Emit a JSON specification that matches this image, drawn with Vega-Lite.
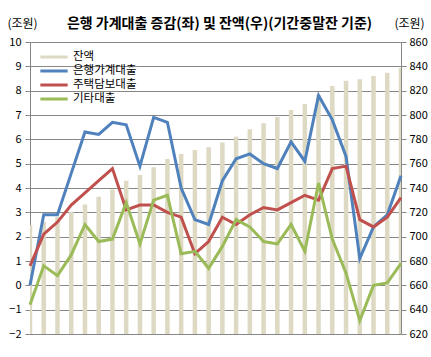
{
  "$schema": "https://vega.github.io/schema/vega-lite/v6.json",
  "width": 371,
  "height": 292,
  "autosize": {"type": "none"},
  "padding": {"left": 30, "top": 42, "right": 30, "bottom": 23},
  "background": "white",
  "config": {"font": "Noto Sans CJK KR", "view": {"stroke": null}},
  "title": {"text": "은행 가계대출 증감(좌) 및 잔액(우)(기간중말잔 기준)", "frame": "group", "anchor": "middle", "offset": -14, "dx": 4, "fontSize": 14, "fontWeight": "bold", "color": "#000000", "font": "Noto Sans CJK KR"},
  "datasets": {
    "balance": [
      {"month": "17/01", "value": 709.5}, {"month": "17/02", "value": 712.2}, {"month": "17/03", "value": 716.3}, {"month": "17/04", "value": 720.4},
      {"month": "17/05", "value": 726.5}, {"month": "17/06", "value": 732.8}, {"month": "17/07", "value": 738.8}, {"month": "17/08", "value": 745.9},
      {"month": "17/09", "value": 750.6}, {"month": "17/10", "value": 757.0}, {"month": "17/11", "value": 763.8}, {"month": "17/12", "value": 767.9},
      {"month": "18/01", "value": 771.2}, {"month": "18/02", "value": 773.4}, {"month": "18/03", "value": 777.5}, {"month": "18/04", "value": 782.1},
      {"month": "18/05", "value": 788.2}, {"month": "18/06", "value": 793.2}, {"month": "18/07", "value": 798.3}, {"month": "18/08", "value": 804.1},
      {"month": "18/09", "value": 809.1}, {"month": "18/10", "value": 816.5}, {"month": "18/11", "value": 823.9}, {"month": "18/12", "value": 828.2},
      {"month": "19/01", "value": 829.4}, {"month": "19/02", "value": 832.1}, {"month": "19/03", "value": 834.8}, {"month": "19/04", "value": 838.6}
    ],
    "loans": [
      {"month": "17/01", "series": "은행가계대출", "value": 0.0}, {"month": "17/02", "series": "은행가계대출", "value": 2.9},
      {"month": "17/03", "series": "은행가계대출", "value": 2.9}, {"month": "17/04", "series": "은행가계대출", "value": 4.6},
      {"month": "17/05", "series": "은행가계대출", "value": 6.3}, {"month": "17/06", "series": "은행가계대출", "value": 6.2},
      {"month": "17/07", "series": "은행가계대출", "value": 6.7}, {"month": "17/08", "series": "은행가계대출", "value": 6.6},
      {"month": "17/09", "series": "은행가계대출", "value": 4.9}, {"month": "17/10", "series": "은행가계대출", "value": 6.9},
      {"month": "17/11", "series": "은행가계대출", "value": 6.7}, {"month": "17/12", "series": "은행가계대출", "value": 4.0},
      {"month": "18/01", "series": "은행가계대출", "value": 2.7}, {"month": "18/02", "series": "은행가계대출", "value": 2.5},
      {"month": "18/03", "series": "은행가계대출", "value": 4.3}, {"month": "18/04", "series": "은행가계대출", "value": 5.2},
      {"month": "18/05", "series": "은행가계대출", "value": 5.4}, {"month": "18/06", "series": "은행가계대출", "value": 5.0},
      {"month": "18/07", "series": "은행가계대출", "value": 4.8}, {"month": "18/08", "series": "은행가계대출", "value": 5.9},
      {"month": "18/09", "series": "은행가계대출", "value": 5.1}, {"month": "18/10", "series": "은행가계대출", "value": 7.8},
      {"month": "18/11", "series": "은행가계대출", "value": 6.8}, {"month": "18/12", "series": "은행가계대출", "value": 5.3},
      {"month": "19/01", "series": "은행가계대출", "value": 1.1}, {"month": "19/02", "series": "은행가계대출", "value": 2.4},
      {"month": "19/03", "series": "은행가계대출", "value": 2.9}, {"month": "19/04", "series": "은행가계대출", "value": 4.5},

      {"month": "17/01", "series": "주택담보대출", "value": 0.8}, {"month": "17/02", "series": "주택담보대출", "value": 2.1},
      {"month": "17/03", "series": "주택담보대출", "value": 2.6}, {"month": "17/04", "series": "주택담보대출", "value": 3.3},
      {"month": "17/05", "series": "주택담보대출", "value": 3.8}, {"month": "17/06", "series": "주택담보대출", "value": 4.3},
      {"month": "17/07", "series": "주택담보대출", "value": 4.8}, {"month": "17/08", "series": "주택담보대출", "value": 3.1},
      {"month": "17/09", "series": "주택담보대출", "value": 3.3}, {"month": "17/10", "series": "주택담보대출", "value": 3.3},
      {"month": "17/11", "series": "주택담보대출", "value": 3.0}, {"month": "17/12", "series": "주택담보대출", "value": 2.8},
      {"month": "18/01", "series": "주택담보대출", "value": 1.3}, {"month": "18/02", "series": "주택담보대출", "value": 1.8},
      {"month": "18/03", "series": "주택담보대출", "value": 2.8}, {"month": "18/04", "series": "주택담보대출", "value": 2.5},
      {"month": "18/05", "series": "주택담보대출", "value": 2.9}, {"month": "18/06", "series": "주택담보대출", "value": 3.2},
      {"month": "18/07", "series": "주택담보대출", "value": 3.1}, {"month": "18/08", "series": "주택담보대출", "value": 3.4},
      {"month": "18/09", "series": "주택담보대출", "value": 3.7}, {"month": "18/10", "series": "주택담보대출", "value": 3.5},
      {"month": "18/11", "series": "주택담보대출", "value": 4.8}, {"month": "18/12", "series": "주택담보대출", "value": 4.9},
      {"month": "19/01", "series": "주택담보대출", "value": 2.7}, {"month": "19/02", "series": "주택담보대출", "value": 2.4},
      {"month": "19/03", "series": "주택담보대출", "value": 2.8}, {"month": "19/04", "series": "주택담보대출", "value": 3.6},

      {"month": "17/01", "series": "기타대출", "value": -0.8}, {"month": "17/02", "series": "기타대출", "value": 0.8},
      {"month": "17/03", "series": "기타대출", "value": 0.4}, {"month": "17/04", "series": "기타대출", "value": 1.25},
      {"month": "17/05", "series": "기타대출", "value": 2.5}, {"month": "17/06", "series": "기타대출", "value": 1.8},
      {"month": "17/07", "series": "기타대출", "value": 1.9}, {"month": "17/08", "series": "기타대출", "value": 3.4},
      {"month": "17/09", "series": "기타대출", "value": 1.7}, {"month": "17/10", "series": "기타대출", "value": 3.5},
      {"month": "17/11", "series": "기타대출", "value": 3.7}, {"month": "17/12", "series": "기타대출", "value": 1.3},
      {"month": "18/01", "series": "기타대출", "value": 1.4}, {"month": "18/02", "series": "기타대출", "value": 0.7},
      {"month": "18/03", "series": "기타대출", "value": 1.6}, {"month": "18/04", "series": "기타대출", "value": 2.7},
      {"month": "18/05", "series": "기타대출", "value": 2.4}, {"month": "18/06", "series": "기타대출", "value": 1.8},
      {"month": "18/07", "series": "기타대출", "value": 1.7}, {"month": "18/08", "series": "기타대출", "value": 2.5},
      {"month": "18/09", "series": "기타대출", "value": 1.4}, {"month": "18/10", "series": "기타대출", "value": 4.2},
      {"month": "18/11", "series": "기타대출", "value": 1.9}, {"month": "18/12", "series": "기타대출", "value": 0.5},
      {"month": "19/01", "series": "기타대출", "value": -1.45}, {"month": "19/02", "series": "기타대출", "value": 0.0},
      {"month": "19/03", "series": "기타대출", "value": 0.1}, {"month": "19/04", "series": "기타대출", "value": 0.9}
    ]
  },
  "layer": [
    {
      "data": {"name": "balance"},
      "mark": {"type": "bar", "color": "#DDD9C3", "size": 4.5, "clip": true},
      "encoding": {
        "x": {
          "field": "month", "type": "ordinal", "sort": null,
          "scale": {"type": "point", "padding": 0},
          "axis": {
            "title": null, "values": ["17/01", "17/07", "18/01", "18/07", "19/01"],
            "offset": -48.67, "domainColor": "#878787", "tickColor": "#878787", "tickSize": 4,
            "labelAngle": 0, "labelFontSize": 10.5, "labelColor": "#000000", "labelPadding": 3,
            "labelOverlap": false, "grid": false
          }
        },
        "y": {
          "field": "value", "type": "quantitative",
          "scale": {"domain": [620, 860], "zero": false, "nice": false},
          "axis": {
            "orient": "right", "values": [620, 640, 660, 680, 700, 720, 740, 760, 780, 800, 820, 840, 860],
            "grid": false, "domainColor": "#878787", "tickColor": "#878787", "tickSize": 5,
            "labelFontSize": 11, "labelColor": "#000000", "labelPadding": 3,
            "title": "(조원)", "titleAngle": 0, "titleX": 8, "titleY": -19, "titleAlign": "center",
            "titleBaseline": "middle", "titleFontSize": 12, "titleFontWeight": "normal", "titleColor": "#000000"
          }
        },
        "y2": {"datum": 620}
      }
    },
    {
      "data": {"name": "loans"},
      "mark": {"type": "line", "strokeWidth": 3},
      "encoding": {
        "x": {"field": "month", "type": "ordinal", "sort": null, "scale": {"type": "point", "padding": 0}, "axis": null},
        "y": {
          "field": "value", "type": "quantitative",
          "scale": {"domain": [-2, 10], "nice": false, "zero": false},
          "axis": {
            "orient": "left", "values": [-2, -1, 0, 1, 2, 3, 4, 5, 6, 7, 8, 9, 10],
            "grid": true, "gridColor": "#878787", "gridWidth": 1, "gridOpacity": 1,
            "domainColor": "#878787", "tickColor": "#878787", "tickSize": 5,
            "labelFontSize": 11, "labelColor": "#000000", "labelPadding": 4,
            "title": "(조원)", "titleAngle": 0, "titleX": -8, "titleY": -19, "titleAlign": "center",
            "titleBaseline": "middle", "titleFontSize": 12, "titleFontWeight": "normal", "titleColor": "#000000"
          }
        },
        "color": {
          "field": "series", "type": "nominal",
          "scale": {"domain": ["잔액", "은행가계대출", "주택담보대출", "기타대출"], "range": ["#DDD9C3", "#4F81BD", "#C0504D", "#9BBB59"]},
          "legend": {
            "title": null, "orient": "none", "legendX": 16, "legendY": 7, "padding": 0,
            "symbolType": "M-2.1,0H2.1", "symbolSize": 169, "symbolStrokeWidth": 3,
            "labelFontSize": 11.5, "labelColor": "#000000", "labelOffset": 11, "rowPadding": -2
          }
        }
      }
    }
  ],
  "resolve": {"scale": {"y": "independent"}}
}
